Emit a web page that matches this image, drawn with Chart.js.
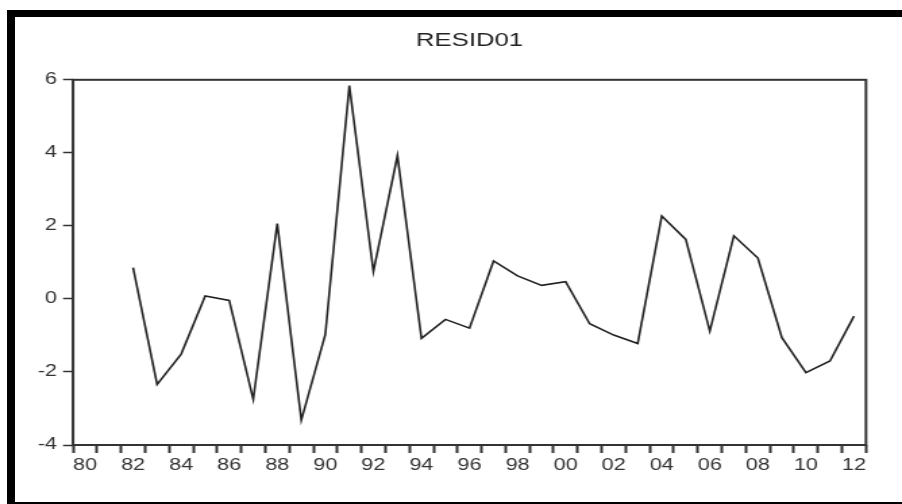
<!DOCTYPE html>
<html lang="en">
<head>
    <meta charset="UTF-8">
    <title>RESID01</title>
    <script src="https://cdn.jsdelivr.net/npm/chart.js"></script>
    <style>
        body {
            margin: 0;
            padding: 0;
            background: #fff;
            width: 902px;
            height: 504px;
            position: relative;
            overflow: hidden;
        }

        /* the picture is a bit stretched sideways, so draw narrow and scale up */
        #residChart {
            position: absolute;
            left: 0;
            top: 0;
            width: 902px;
            height: 504px;
        }

        /* thick black frame round the picture */
        .frame {
            position: absolute;
            left: 7px;
            top: 10px;
            width: 895px;
            height: 494px;
            box-sizing: border-box;
            border-top: 7px solid #000;
            border-left: 8px solid #000;
            border-bottom: 2px solid #000;
            pointer-events: none;
        }
    </style>
</head>
<body>

    <canvas id="residChart" width="668" height="504" style="width:902px;height:504px"></canvas>
    <div class="frame"></div>

    <script>
        // x axis categories (two-digit years)
        const axisYears = ['80', '81', '82', '83', '84', '85', '86', '87', '88', '89',
                           '90', '91', '92', '93', '94', '95', '96', '97', '98', '99',
                           '00', '01', '02', '03', '04', '05', '06', '07', '08', '09',
                           '10', '11', '12'];

        // years that have a residual
        const dataYears = ['82', '83', '84', '85', '86', '87', '88', '89', '90', '91',
                           '92', '93', '94', '95', '96', '97', '98', '99', '00', '01',
                           '02', '03', '04', '05', '06', '07', '08', '09', '10', '11',
                           '12'];

        const resid01 = [0.86, -2.34, -1.51, 0.08, -0.04, -2.75, 2.06, -3.32, -0.97, 5.84,
                         0.75, 3.92, -1.08, -0.56, -0.80, 1.04, 0.63, 0.37, 0.47, -0.68,
                         -0.99, -1.22, 2.27, 1.63, -0.88, 1.73, 1.12, -1.06, -2.02, -1.70,
                         -0.47];

        const yTicks = [-4, -2, 0, 2, 4, 6];

        const SX = 902 / 668;   // horizontal stretch of the canvas
        const axisColor = '#333';

        // box round the plot area
        const plotFrame = {
            id: 'plotFrame',
            afterDraw(chart) {
                const a = chart.chartArea;
                const ctx = chart.ctx;
                ctx.save();
                ctx.strokeStyle = axisColor;
                ctx.lineWidth = 2;
                ctx.strokeRect(a.left, a.top, a.right - a.left, a.bottom - a.top);
                ctx.restore();
            }
        };

        const points = dataYears.map((yr, i) => ({ x: yr, y: resid01[i] }));

        new Chart(document.getElementById('residChart'), {
            type: 'line',
            data: {
                labels: axisYears,
                datasets: [{
                    label: 'RESID01',
                    data: points,
                    borderColor: '#222',
                    borderWidth: 1.6,
                    pointRadius: 0,
                    tension: 0,
                    fill: false
                }]
            },
            options: {
                responsive: false,
                animation: false,
                devicePixelRatio: 1,
                layout: {
                    padding: { left: 0, right: 668 - 866 / SX, top: 0, bottom: 0 }
                },
                plugins: {
                    legend: { display: false },
                    tooltip: { enabled: false },
                    title: {
                        display: true,
                        fullSize: false,
                        text: 'RESID01',
                        color: '#222',
                        font: { family: "'Liberation Sans', Arial, sans-serif", size: 19, weight: 'normal' },
                        padding: { top: 29, bottom: 28 }
                    }
                },
                scales: {
                    x: {
                        type: 'category',
                        offset: true,
                        border: { display: false },
                        grid: {
                            offset: true,
                            drawOnChartArea: false,
                            drawTicks: true,
                            tickLength: 8,
                            tickWidth: 2,
                            tickColor: axisColor
                        },
                        ticks: {
                            autoSkip: false,
                            maxRotation: 0,
                            minRotation: 0,
                            padding: 3,
                            color: '#333',
                            font: { family: "'Liberation Sans', Arial, sans-serif", size: 16 },
                            callback: (val, i) => (i % 2 === 0 ? axisYears[i] : '')
                        },
                        afterFit(scale) { scale.height = 59; }
                    },
                    y: {
                        min: yTicks[0],
                        max: yTicks[yTicks.length - 1],
                        border: { display: false },
                        grid: {
                            drawOnChartArea: false,
                            drawTicks: true,
                            tickLength: 10 / SX,
                            tickWidth: 1.5,
                            tickColor: axisColor
                        },
                        afterBuildTicks(scale) {
                            scale.ticks = yTicks.map(v => ({ value: v }));
                        },
                        ticks: {
                            padding: 4.5,
                            color: '#333',
                            font: { family: "'Liberation Sans', Arial, sans-serif", size: 16 },
                            callback: v => String(v)
                        },
                        afterFit(scale) { scale.width = 73 / SX; }
                    }
                }
            },
            plugins: [plotFrame]
        });
    </script>

</body>
</html>
